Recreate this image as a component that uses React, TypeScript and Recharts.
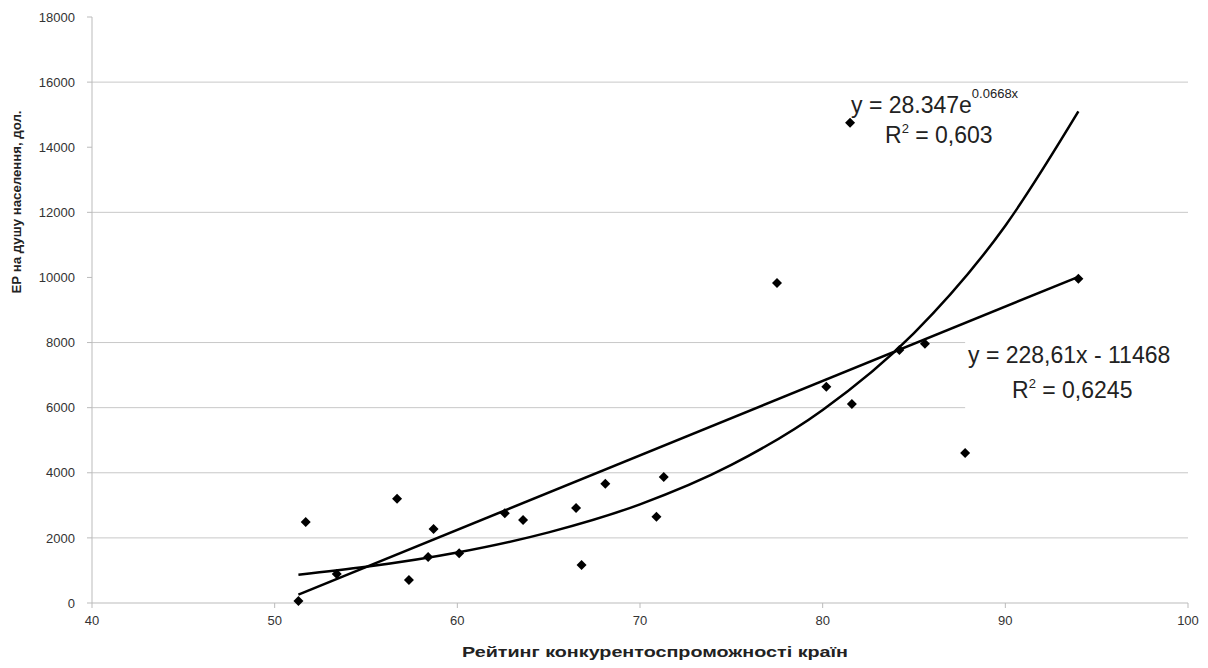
import { ComposedChart, Scatter, Line, XAxis, YAxis, ReferenceLine, Customized } from 'recharts';

// scatter points: competitiveness rating vs GDP per capita
const pointX = [51.3, 51.7, 53.4, 56.7, 57.35, 58.4, 58.7, 60.1, 62.6, 63.6, 66.5, 66.8, 68.1, 70.9, 71.3, 77.5, 80.2, 81.5, 81.6, 84.2, 85.6, 87.8, 94.0];
const pointY = [60, 2490, 890, 3200, 705, 1410, 2270, 1530, 2760, 2550, 2920, 1170, 3660, 2650, 3870, 9830, 6640, 14750, 6110, 7770, 7960, 4610, 9960];

// trendlines
const linTrendX = [51.3, 94.0];
const linTrendY = [260, 10020];
const expTrendX = [51.3, 55, 60, 65, 70, 75, 80, 85, 90, 94.0];
const expTrendY = [870, 1110, 1550, 2170, 3030, 4240, 5930, 8290, 11590, 15100];

const xTicks = [40, 50, 60, 70, 80, 90, 100];
const yTicks = [0, 2000, 4000, 6000, 8000, 10000, 12000, 14000, 16000, 18000];
// gridlines that survive in the scan; two of them stop at the equation box
const gridFull = [2000, 4000, 12000, 16000];
const gridCut = [6000, 8000];
const gridCutEnd = 87.8;

const points = pointX.map((x, i) => ({ x, y: pointY[i] }));
const linTrend = linTrendX.map((x, i) => ({ x, y: linTrendY[i] }));
const expTrend = expTrendX.map((x, i) => ({ x, y: expTrendY[i] }));

const font = '"Liberation Sans", Arial, sans-serif';
const tickStyle = { fill: '#333', fontSize: 13, fontFamily: font };
const gridColor = '#c8c8c8';

const Diamond = (props: any) => {
  const { cx, cy } = props;
  const r = 5;
  return <polygon points={`${cx},${cy - r} ${cx + r},${cy} ${cx},${cy + r} ${cx - r},${cy}`} fill="#000" />;
};

const Labels = () => (
  <g fontFamily={font} fill="#222">
    <text
      x={18}
      y={202}
      transform="rotate(-90 18 202)"
      textAnchor="middle"
      dominantBaseline="middle"
      fontSize={12}
      fontWeight="bold"
      textLength={183}
      lengthAdjust="spacingAndGlyphs"
    >
      ЕР на душу населення, дол.
    </text>
    <text x={655} y={657} textAnchor="middle" fontSize={14} fontWeight="bold" textLength={386} lengthAdjust="spacingAndGlyphs">
      Рейтинг конкурентоспроможності країн
    </text>
    <text x={851} y={113} fontSize={23}>
      y = 28.347e<tspan fontSize={13} dy={-15}>0.0668x</tspan>
    </text>
    <text x={885} y={143} fontSize={23}>
      R<tspan fontSize={13} dy={-10}>2</tspan><tspan dy={10}> = 0,603</tspan>
    </text>
    <text x={968} y={363} fontSize={23}>
      y = 228,61x - 11468
    </text>
    <text x={1012} y={398} fontSize={23}>
      R<tspan fontSize={13} dy={-10}>2</tspan><tspan dy={10}> = 0,6245</tspan>
    </text>
  </g>
);

export default function App() {
  return (
    <div style={{ position: 'absolute', left: 0, top: 0, background: '#fff' }}>
      <ComposedChart width={1208} height={668} margin={{ top: 17, right: 20, left: 0, bottom: 35 }}>
        <XAxis
          type="number"
          dataKey="x"
          domain={[40, 100]}
          ticks={xTicks}
          height={30}
          stroke="#bbb"
          tickSize={5}
          tickMargin={8}
          tick={tickStyle}
        />
        <YAxis
          type="number"
          dataKey="y"
          domain={[0, 18000]}
          ticks={yTicks}
          width={92}
          stroke="#bbb"
          tickSize={5}
          tickMargin={12}
          tick={tickStyle}
        />
        {gridFull.map((v) => (
          <ReferenceLine key={`g${v}`} y={v} stroke={gridColor} />
        ))}
        {gridCut.map((v) => (
          <ReferenceLine key={`c${v}`} segment={[{ x: 40, y: v }, { x: gridCutEnd, y: v }]} stroke={gridColor} />
        ))}
        <Customized component={<Labels />} />
        <Line data={linTrend} dataKey="y" type="linear" stroke="#000" strokeWidth={2.5} dot={false} isAnimationActive={false} />
        <Line data={expTrend} dataKey="y" type="monotone" stroke="#000" strokeWidth={2.5} dot={false} isAnimationActive={false} />
        <Scatter data={points} dataKey="y" fill="#000" shape={<Diamond />} isAnimationActive={false} />
      </ComposedChart>
    </div>
  );
}
